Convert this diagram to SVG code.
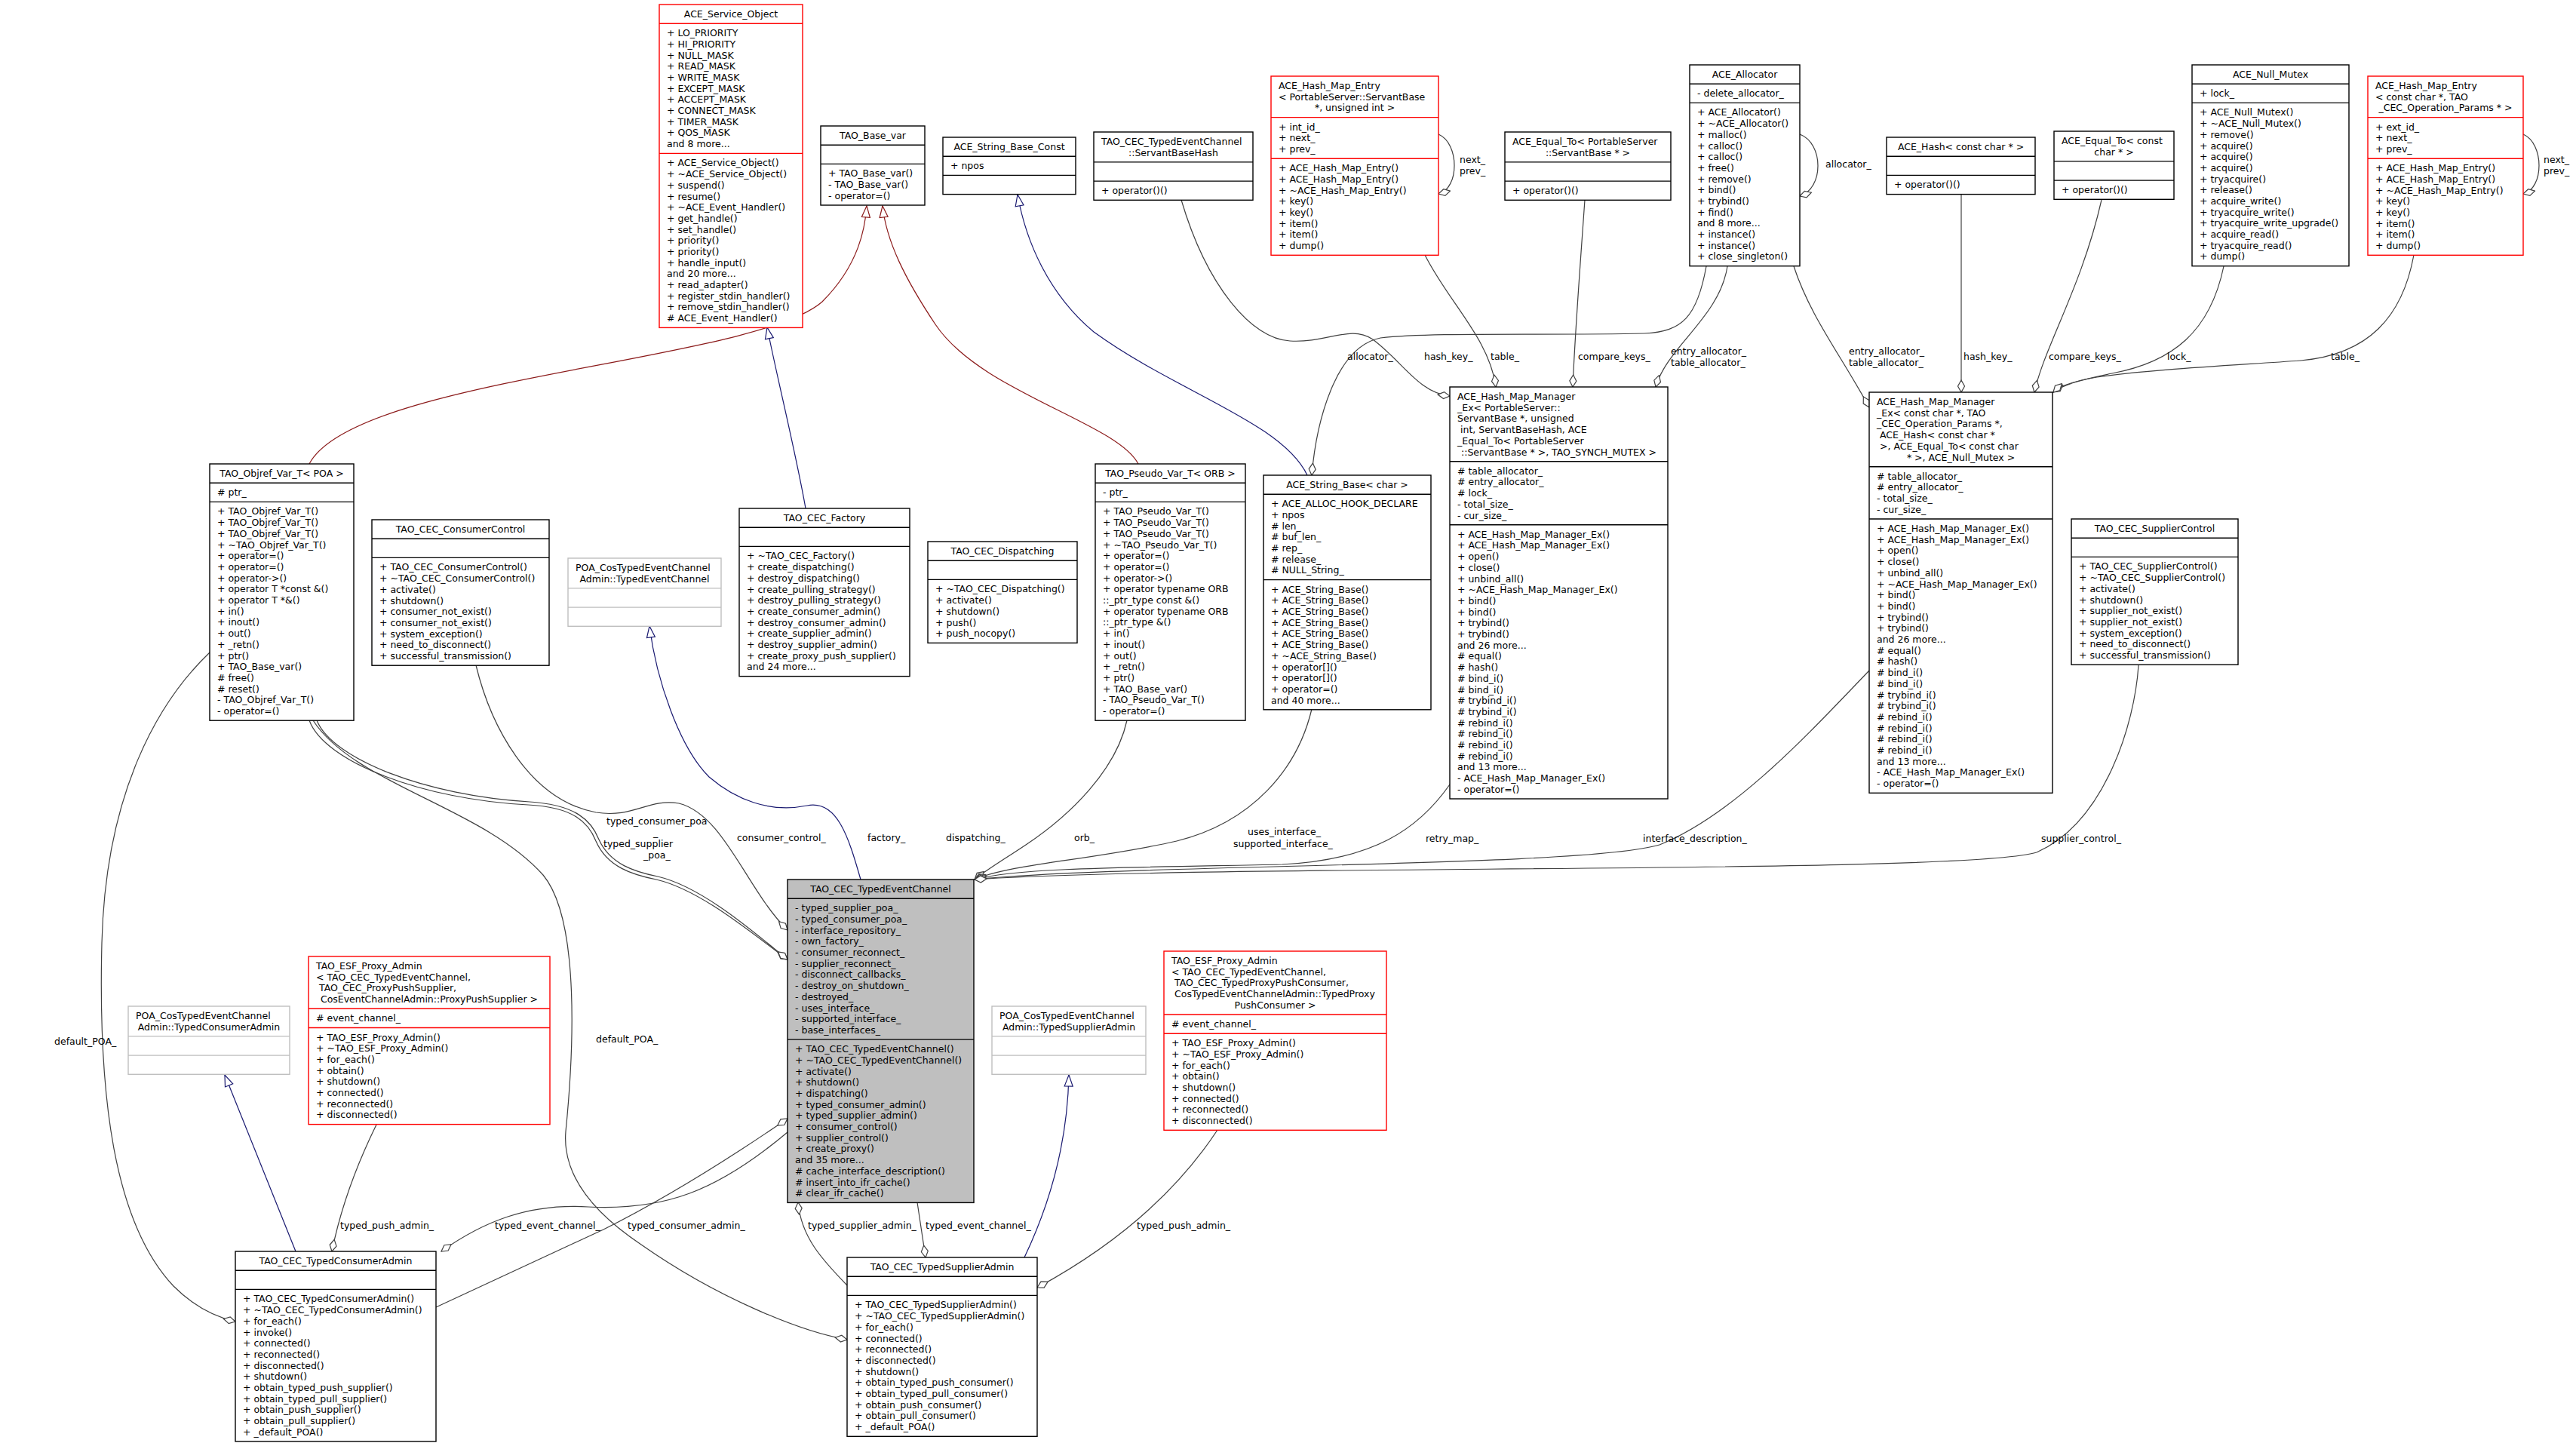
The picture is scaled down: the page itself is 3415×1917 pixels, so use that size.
<svg xmlns="http://www.w3.org/2000/svg" width="3415" height="1917" viewBox="0 0 3415 1917">
<style>
.t{font-family:"DejaVu Sans","Liberation Sans",sans-serif;font-size:12.5px;fill:#000}
.c{text-anchor:middle}
.b{fill:#fff;stroke:#000;stroke-width:1.4}
.r{fill:#fff;stroke:#ff0000;stroke-width:1.4}
.g{fill:#fff;stroke:#bfbfbf;stroke-width:1.4}
.s{fill:#bfbfbf;stroke:#000;stroke-width:1.4}
.dk{stroke:#000;stroke-width:1.4}
.dr{stroke:#ff0000;stroke-width:1.4}
.dg{stroke:#bfbfbf;stroke-width:1.4}
.e{fill:none;stroke:#404040;stroke-width:1.2;marker-end:url(#dia)}
.ib{fill:none;stroke:#191970;stroke-width:1.2;marker-end:url(#tb)}
.ir{fill:none;stroke:#8b1a1a;stroke-width:1.2;marker-end:url(#tr)}
</style>
<defs>
<marker id="dia" viewBox="-1 -6 19 12" refX="16" refY="0" markerWidth="19" markerHeight="12" orient="auto" markerUnits="userSpaceOnUse"><path d="M0,0 L8,-4.5 L16,0 L8,4.5 Z" fill="#fff" stroke="#404040" stroke-width="1.2"/></marker>
<marker id="tb" viewBox="-1 -7 17 14" refX="15" refY="0" markerWidth="17" markerHeight="14" orient="auto" markerUnits="userSpaceOnUse"><path d="M0,-5.5 L15,0 L0,5.5 Z" fill="#fff" stroke="#191970" stroke-width="1.2"/></marker>
<marker id="tr" viewBox="-1 -7 17 14" refX="15" refY="0" markerWidth="17" markerHeight="14" orient="auto" markerUnits="userSpaceOnUse"><path d="M0,-5.5 L15,0 L0,5.5 Z" fill="#fff" stroke="#8b1a1a" stroke-width="1.2"/></marker>
</defs>
<rect width="3415" height="1917" fill="#fff"/>

<g id="connectors">
<path class="ir" d="M410,615 C470,500 1000,480 1090,400 C1140,350 1147,300 1149,273"/>
<path class="ir" d="M1509,615 C1480,560 1300,520 1240,430 C1200,370 1175,320 1170,273"/>
<path class="ib" d="M1068,674 C1055,600 1030,500 1017,434"/>
<path class="ib" d="M1733,630 C1700,560 1560,520 1450,440 C1390,390 1360,320 1349,258"/>
<path class="ib" d="M1141,1166 C1125,1110 1110,1060 1070,1068 C1020,1078 975,1060 940,1030 C900,990 870,900 861,830"/>
<path class="ib" d="M392,1659 L298,1425"/>
<path class="ib" d="M1358,1667 C1390,1600 1415,1520 1417,1425"/>
<path class="e" d="M1566,265 C1600,380 1660,450 1710,452 C1760,455 1790,430 1820,450 C1860,480 1880,520 1922,525"/>
<path class="e" d="M1889,338 C1920,400 1975,450 1983,513"/>
<path class="e" d="M2101,265 C2095,350 2088,440 2085,513"/>
<path class="e" d="M2290,353 C2280,420 2210,460 2195,513"/>
<path class="e" d="M2262,353 C2250,420 2230,440 2180,442 C2050,445 1900,440 1830,448 C1770,460 1745,560 1739,630"/>
<path class="e" d="M2600,258 L2600,520"/>
<path class="e" d="M2786,265 C2760,380 2710,460 2697,520"/>
<path class="e" d="M2948,353 C2930,440 2880,480 2800,495 C2760,503 2735,510 2722,520"/>
<path class="e" d="M3200,338 C3185,420 3140,470 3050,478 C2950,485 2850,490 2780,500 C2750,505 2730,512 2722,520"/>
<path class="e" d="M2378,353 C2400,420 2440,470 2478,540"/>
<path class="e" d="M2386,178 C2418,190 2418,250 2386,260"/>
<path class="e" d="M1907,178 C1935,190 1935,250 1907,257"/>
<path class="e" d="M3345,178 C3373,190 3373,250 3345,257"/>
<path class="e" d="M631,882 C650,960 700,1060 790,1077 C840,1085 860,1058 900,1065 C960,1080 990,1180 1044,1233"/>
<path class="e" d="M410,955 C430,1010 560,1060 700,1067 C760,1070 780,1090 790,1115 C805,1150 840,1160 870,1166 C930,1180 1000,1240 1044,1272"/>
<path class="e" d="M420,955 C440,1006 565,1055 702,1063 C764,1067 784,1088 794,1113 C809,1146 842,1156 872,1162 C932,1176 1002,1238 1044,1272"/>
<path class="e" d="M415,955 C470,1040 640,1070 720,1160 C770,1220 760,1400 750,1500 C745,1560 790,1610 850,1650 C950,1720 1060,1765 1123,1776"/>
<path class="e" d="M278,865 C210,930 140,1050 135,1250 C130,1450 150,1620 230,1705 C260,1735 290,1747 312,1752"/>
<path class="e" d="M578,1733 L800,1630 C900,1580 990,1520 1044,1483"/>
<path class="e" d="M1044,1501 C950,1580 880,1605 780,1600 C700,1595 640,1620 585,1659"/>
<path class="e" d="M499,1491 C470,1550 450,1610 440,1659"/>
<path class="e" d="M1123,1704 C1090,1670 1062,1640 1058,1594"/>
<path class="e" d="M1216,1594 L1227,1667"/>
<path class="e" d="M1614,1498 C1560,1580 1480,1650 1375,1707"/>
<path class="e" d="M1494,955 C1480,1020 1420,1080 1360,1120 C1330,1140 1305,1155 1292,1166"/>
<path class="e" d="M1739,940 C1720,1020 1660,1090 1560,1115 C1450,1140 1340,1145 1292,1166"/>
<path class="e" d="M1922,1040 C1880,1100 1820,1140 1700,1146 C1500,1150 1350,1150 1292,1166"/>
<path class="e" d="M2478,889 C2400,970 2300,1080 2200,1120 C2100,1150 1500,1145 1292,1166"/>
<path class="e" d="M2835,882 C2830,960 2790,1090 2700,1130 C2600,1160 1600,1145 1292,1166"/>
<g class="t">
<text x="1786" y="477">allocator_</text>
<text x="1888" y="477">hash_key_</text>
<text x="1976" y="477">table_</text>
<text x="2092" y="477">compare_keys_</text>
<text x="2215" y="470">entry_allocator_</text>
<text x="2215" y="485">table_allocator_</text>
<text x="2451" y="470">entry_allocator_</text>
<text x="2451" y="485">table_allocator_</text>
<text x="2603" y="477">hash_key_</text>
<text x="2716" y="477">compare_keys_</text>
<text x="2873" y="477">lock_</text>
<text x="3090" y="477">table_</text>
<text x="2420" y="222">allocator_</text>
<text x="1935" y="216">next_</text>
<text x="1935" y="231">prev_</text>
<text x="3372" y="216">next_</text>
<text x="3372" y="231">prev_</text>
<text x="804" y="1093">typed_consumer_poa</text>
<text x="866" y="1108">_</text>
<text x="800" y="1123">typed_supplier</text>
<text x="853" y="1138">_poa_</text>
<text x="977" y="1115">consumer_control_</text>
<text x="1150" y="1115">factory_</text>
<text x="1254" y="1115">dispatching_</text>
<text x="1424" y="1115">orb_</text>
<text x="1654" y="1107">uses_interface_</text>
<text x="1635" y="1123">supported_interface_</text>
<text x="1890" y="1116">retry_map_</text>
<text x="2178" y="1116">interface_description_</text>
<text x="2706" y="1116">supplier_control_</text>
<text x="72" y="1385">default_POA_</text>
<text x="790" y="1382">default_POA_</text>
<text x="451" y="1629">typed_push_admin_</text>
<text x="656" y="1629">typed_event_channel_</text>
<text x="832" y="1629">typed_consumer_admin_</text>
<text x="1071" y="1629">typed_supplier_admin_</text>
<text x="1227" y="1629">typed_event_channel_</text>
<text x="1507" y="1629">typed_push_admin_</text>
</g>
</g>

<g id="ACE_Service_Object">
<rect class="r" x="874" y="6" width="190" height="428.4"/>
<path class="dr" d="M874,31.2H1064M874,203.4H1064"/>
<text class="t c" x="969" y="23">ACE_Service_Object</text>
<text class="t" y="48.2"><tspan x="884">+ LO_PRIORITY</tspan><tspan x="884" dy="14.7">+ HI_PRIORITY</tspan><tspan x="884" dy="14.7">+ NULL_MASK</tspan><tspan x="884" dy="14.7">+ READ_MASK</tspan><tspan x="884" dy="14.7">+ WRITE_MASK</tspan><tspan x="884" dy="14.7">+ EXCEPT_MASK</tspan><tspan x="884" dy="14.7">+ ACCEPT_MASK</tspan><tspan x="884" dy="14.7">+ CONNECT_MASK</tspan><tspan x="884" dy="14.7">+ TIMER_MASK</tspan><tspan x="884" dy="14.7">+ QOS_MASK</tspan><tspan x="884" dy="14.7">and 8 more...</tspan></text>
<text class="t" y="220.4"><tspan x="884">+ ACE_Service_Object()</tspan><tspan x="884" dy="14.7">+ ~ACE_Service_Object()</tspan><tspan x="884" dy="14.7">+ suspend()</tspan><tspan x="884" dy="14.7">+ resume()</tspan><tspan x="884" dy="14.7">+ ~ACE_Event_Handler()</tspan><tspan x="884" dy="14.7">+ get_handle()</tspan><tspan x="884" dy="14.7">+ set_handle()</tspan><tspan x="884" dy="14.7">+ priority()</tspan><tspan x="884" dy="14.7">+ priority()</tspan><tspan x="884" dy="14.7">+ handle_input()</tspan><tspan x="884" dy="14.7">and 20 more...</tspan><tspan x="884" dy="14.7">+ read_adapter()</tspan><tspan x="884" dy="14.7">+ register_stdin_handler()</tspan><tspan x="884" dy="14.7">+ remove_stdin_handler()</tspan><tspan x="884" dy="14.7"># ACE_Event_Handler()</tspan></text>
</g>

<g id="TAO_Base_var">
<rect class="b" x="1088" y="167" width="138" height="105"/>
<path class="dk" d="M1088,192.2H1226M1088,217.4H1226"/>
<text class="t c" x="1157" y="184">TAO_Base_var</text>
<text class="t" y="234.4"><tspan x="1098">+ TAO_Base_var()</tspan><tspan x="1098" dy="14.7">- TAO_Base_var()</tspan><tspan x="1098" dy="14.7">- operator=()</tspan></text>
</g>

<g id="ACE_String_Base_Const">
<rect class="b" x="1250" y="182" width="176" height="75.6"/>
<path class="dk" d="M1250,207.2H1426M1250,232.4H1426"/>
<text class="t c" x="1338" y="199">ACE_String_Base_Const</text>
<text class="t" x="1260" y="224.2">+ npos</text>
</g>

<g id="ServantBaseHash">
<rect class="b" x="1450" y="175" width="211" height="90.3"/>
<path class="dk" d="M1450,214.9H1661M1450,240.1H1661"/>
<text class="t" x="1460" y="192">TAO_CEC_TypedEventChannel</text>
<text class="t c" x="1555.5" y="206.7">::ServantBaseHash</text>
<text class="t" x="1460" y="257.1">+ operator()()</text>
</g>

<g id="ACE_Hash_Map_Entry_PS">
<rect class="r" x="1685" y="101" width="222" height="237.3"/>
<path class="dr" d="M1685,155.6H1907M1685,210.2H1907"/>
<text class="t" y="118"><tspan x="1695">ACE_Hash_Map_Entry</tspan><tspan x="1695" dy="14.7">&lt; PortableServer::ServantBase</tspan></text>
<text class="t c" x="1796" y="147.4">*, unsigned int &gt;</text>
<text class="t" y="172.6"><tspan x="1695">+ int_id_</tspan><tspan x="1695" dy="14.7">+ next_</tspan><tspan x="1695" dy="14.7">+ prev_</tspan></text>
<text class="t" y="227.2"><tspan x="1695">+ ACE_Hash_Map_Entry()</tspan><tspan x="1695" dy="14.7">+ ACE_Hash_Map_Entry()</tspan><tspan x="1695" dy="14.7">+ ~ACE_Hash_Map_Entry()</tspan><tspan x="1695" dy="14.7">+ key()</tspan><tspan x="1695" dy="14.7">+ key()</tspan><tspan x="1695" dy="14.7">+ item()</tspan><tspan x="1695" dy="14.7">+ item()</tspan><tspan x="1695" dy="14.7">+ dump()</tspan></text>
</g>

<g id="ACE_Equal_To_PS">
<rect class="b" x="1995" y="175" width="220" height="90.3"/>
<path class="dk" d="M1995,214.9H2215M1995,240.1H2215"/>
<text class="t" x="2005" y="192">ACE_Equal_To&lt; PortableServer</text>
<text class="t c" x="2105" y="206.7">::ServantBase * &gt;</text>
<text class="t" x="2005" y="257.1">+ operator()()</text>
</g>

<g id="ACE_Allocator">
<rect class="b" x="2240" y="86" width="146" height="266.7"/>
<path class="dk" d="M2240,111.2H2386M2240,136.4H2386"/>
<text class="t c" x="2313" y="103">ACE_Allocator</text>
<text class="t" x="2250" y="128.2">- delete_allocator_</text>
<text class="t" y="153.4"><tspan x="2250">+ ACE_Allocator()</tspan><tspan x="2250" dy="14.7">+ ~ACE_Allocator()</tspan><tspan x="2250" dy="14.7">+ malloc()</tspan><tspan x="2250" dy="14.7">+ calloc()</tspan><tspan x="2250" dy="14.7">+ calloc()</tspan><tspan x="2250" dy="14.7">+ free()</tspan><tspan x="2250" dy="14.7">+ remove()</tspan><tspan x="2250" dy="14.7">+ bind()</tspan><tspan x="2250" dy="14.7">+ trybind()</tspan><tspan x="2250" dy="14.7">+ find()</tspan><tspan x="2250" dy="14.7">and 8 more...</tspan><tspan x="2250" dy="14.7">+ instance()</tspan><tspan x="2250" dy="14.7">+ instance()</tspan><tspan x="2250" dy="14.7">+ close_singleton()</tspan></text>
</g>

<g id="ACE_Hash_char">
<rect class="b" x="2501" y="182" width="197" height="75.6"/>
<path class="dk" d="M2501,207.2H2698M2501,232.4H2698"/>
<text class="t c" x="2599.5" y="199">ACE_Hash&lt; const char * &gt;</text>
<text class="t" x="2511" y="249.4">+ operator()()</text>
</g>

<g id="ACE_Equal_To_char">
<rect class="b" x="2723" y="174" width="159" height="90.3"/>
<path class="dk" d="M2723,213.9H2882M2723,239.1H2882"/>
<text class="t" x="2733" y="191">ACE_Equal_To&lt; const</text>
<text class="t c" x="2802.5" y="205.7">char * &gt;</text>
<text class="t" x="2733" y="256.1">+ operator()()</text>
</g>

<g id="ACE_Null_Mutex">
<rect class="b" x="2906" y="86" width="208" height="266.7"/>
<path class="dk" d="M2906,111.2H3114M2906,136.4H3114"/>
<text class="t c" x="3010" y="103">ACE_Null_Mutex</text>
<text class="t" x="2916" y="128.2">+ lock_</text>
<text class="t" y="153.4"><tspan x="2916">+ ACE_Null_Mutex()</tspan><tspan x="2916" dy="14.7">+ ~ACE_Null_Mutex()</tspan><tspan x="2916" dy="14.7">+ remove()</tspan><tspan x="2916" dy="14.7">+ acquire()</tspan><tspan x="2916" dy="14.7">+ acquire()</tspan><tspan x="2916" dy="14.7">+ acquire()</tspan><tspan x="2916" dy="14.7">+ tryacquire()</tspan><tspan x="2916" dy="14.7">+ release()</tspan><tspan x="2916" dy="14.7">+ acquire_write()</tspan><tspan x="2916" dy="14.7">+ tryacquire_write()</tspan><tspan x="2916" dy="14.7">+ tryacquire_write_upgrade()</tspan><tspan x="2916" dy="14.7">+ acquire_read()</tspan><tspan x="2916" dy="14.7">+ tryacquire_read()</tspan><tspan x="2916" dy="14.7">+ dump()</tspan></text>
</g>

<g id="ACE_Hash_Map_Entry_char">
<rect class="r" x="3139" y="101" width="206" height="237.3"/>
<path class="dr" d="M3139,155.6H3345M3139,210.2H3345"/>
<text class="t" y="118"><tspan x="3149">ACE_Hash_Map_Entry</tspan><tspan x="3149" dy="14.7">&lt; const char *, TAO</tspan></text>
<text class="t c" x="3242" y="147.4">_CEC_Operation_Params * &gt;</text>
<text class="t" y="172.6"><tspan x="3149">+ ext_id_</tspan><tspan x="3149" dy="14.7">+ next_</tspan><tspan x="3149" dy="14.7">+ prev_</tspan></text>
<text class="t" y="227.2"><tspan x="3149">+ ACE_Hash_Map_Entry()</tspan><tspan x="3149" dy="14.7">+ ACE_Hash_Map_Entry()</tspan><tspan x="3149" dy="14.7">+ ~ACE_Hash_Map_Entry()</tspan><tspan x="3149" dy="14.7">+ key()</tspan><tspan x="3149" dy="14.7">+ key()</tspan><tspan x="3149" dy="14.7">+ item()</tspan><tspan x="3149" dy="14.7">+ item()</tspan><tspan x="3149" dy="14.7">+ dump()</tspan></text>
</g>

<g id="TAO_Objref_Var_T">
<rect class="b" x="278" y="615" width="191" height="340.2"/>
<path class="dk" d="M278,640.2H469M278,665.4H469"/>
<text class="t c" x="373.5" y="632">TAO_Objref_Var_T&lt; POA &gt;</text>
<text class="t" x="288" y="657.2"># ptr_</text>
<text class="t" y="682.4"><tspan x="288">+ TAO_Objref_Var_T()</tspan><tspan x="288" dy="14.7">+ TAO_Objref_Var_T()</tspan><tspan x="288" dy="14.7">+ TAO_Objref_Var_T()</tspan><tspan x="288" dy="14.7">+ ~TAO_Objref_Var_T()</tspan><tspan x="288" dy="14.7">+ operator=()</tspan><tspan x="288" dy="14.7">+ operator=()</tspan><tspan x="288" dy="14.7">+ operator-&gt;()</tspan><tspan x="288" dy="14.7">+ operator T *const &amp;()</tspan><tspan x="288" dy="14.7">+ operator T *&amp;()</tspan><tspan x="288" dy="14.7">+ in()</tspan><tspan x="288" dy="14.7">+ inout()</tspan><tspan x="288" dy="14.7">+ out()</tspan><tspan x="288" dy="14.7">+ _retn()</tspan><tspan x="288" dy="14.7">+ ptr()</tspan><tspan x="288" dy="14.7">+ TAO_Base_var()</tspan><tspan x="288" dy="14.7"># free()</tspan><tspan x="288" dy="14.7"># reset()</tspan><tspan x="288" dy="14.7">- TAO_Objref_Var_T()</tspan><tspan x="288" dy="14.7">- operator=()</tspan></text>
</g>

<g id="TAO_CEC_ConsumerControl">
<rect class="b" x="493" y="689" width="235" height="193.2"/>
<path class="dk" d="M493,714.2H728M493,739.4H728"/>
<text class="t c" x="610.5" y="706">TAO_CEC_ConsumerControl</text>
<text class="t" y="756.4"><tspan x="503">+ TAO_CEC_ConsumerControl()</tspan><tspan x="503" dy="14.7">+ ~TAO_CEC_ConsumerControl()</tspan><tspan x="503" dy="14.7">+ activate()</tspan><tspan x="503" dy="14.7">+ shutdown()</tspan><tspan x="503" dy="14.7">+ consumer_not_exist()</tspan><tspan x="503" dy="14.7">+ consumer_not_exist()</tspan><tspan x="503" dy="14.7">+ system_exception()</tspan><tspan x="503" dy="14.7">+ need_to_disconnect()</tspan><tspan x="503" dy="14.7">+ successful_transmission()</tspan></text>
</g>

<g id="POA_TypedEventChannel">
<rect class="g" x="753" y="740" width="203" height="90.3"/>
<path class="dg" d="M753,779.9H956M753,805.1H956"/>
<text class="t" x="763" y="757">POA_CosTypedEventChannel</text>
<text class="t c" x="854.5" y="771.7">Admin::TypedEventChannel</text>
</g>

<g id="TAO_CEC_Factory">
<rect class="b" x="980" y="674" width="226" height="222.6"/>
<path class="dk" d="M980,699.2H1206M980,724.4H1206"/>
<text class="t c" x="1093" y="691">TAO_CEC_Factory</text>
<text class="t" y="741.4"><tspan x="990">+ ~TAO_CEC_Factory()</tspan><tspan x="990" dy="14.7">+ create_dispatching()</tspan><tspan x="990" dy="14.7">+ destroy_dispatching()</tspan><tspan x="990" dy="14.7">+ create_pulling_strategy()</tspan><tspan x="990" dy="14.7">+ destroy_pulling_strategy()</tspan><tspan x="990" dy="14.7">+ create_consumer_admin()</tspan><tspan x="990" dy="14.7">+ destroy_consumer_admin()</tspan><tspan x="990" dy="14.7">+ create_supplier_admin()</tspan><tspan x="990" dy="14.7">+ destroy_supplier_admin()</tspan><tspan x="990" dy="14.7">+ create_proxy_push_supplier()</tspan><tspan x="990" dy="14.7">and 24 more...</tspan></text>
</g>

<g id="TAO_CEC_Dispatching">
<rect class="b" x="1230" y="718" width="198" height="134.4"/>
<path class="dk" d="M1230,743.2H1428M1230,768.4H1428"/>
<text class="t c" x="1329" y="735">TAO_CEC_Dispatching</text>
<text class="t" y="785.4"><tspan x="1240">+ ~TAO_CEC_Dispatching()</tspan><tspan x="1240" dy="14.7">+ activate()</tspan><tspan x="1240" dy="14.7">+ shutdown()</tspan><tspan x="1240" dy="14.7">+ push()</tspan><tspan x="1240" dy="14.7">+ push_nocopy()</tspan></text>
</g>

<g id="TAO_Pseudo_Var_T">
<rect class="b" x="1452" y="615" width="199" height="340.2"/>
<path class="dk" d="M1452,640.2H1651M1452,665.4H1651"/>
<text class="t c" x="1551.5" y="632">TAO_Pseudo_Var_T&lt; ORB &gt;</text>
<text class="t" x="1462" y="657.2">- ptr_</text>
<text class="t" y="682.4"><tspan x="1462">+ TAO_Pseudo_Var_T()</tspan><tspan x="1462" dy="14.7">+ TAO_Pseudo_Var_T()</tspan><tspan x="1462" dy="14.7">+ TAO_Pseudo_Var_T()</tspan><tspan x="1462" dy="14.7">+ ~TAO_Pseudo_Var_T()</tspan><tspan x="1462" dy="14.7">+ operator=()</tspan><tspan x="1462" dy="14.7">+ operator=()</tspan><tspan x="1462" dy="14.7">+ operator-&gt;()</tspan><tspan x="1462" dy="14.7">+ operator typename ORB</tspan><tspan x="1462" dy="14.7">::_ptr_type const &amp;()</tspan><tspan x="1462" dy="14.7">+ operator typename ORB</tspan><tspan x="1462" dy="14.7">::_ptr_type &amp;()</tspan><tspan x="1462" dy="14.7">+ in()</tspan><tspan x="1462" dy="14.7">+ inout()</tspan><tspan x="1462" dy="14.7">+ out()</tspan><tspan x="1462" dy="14.7">+ _retn()</tspan><tspan x="1462" dy="14.7">+ ptr()</tspan><tspan x="1462" dy="14.7">+ TAO_Base_var()</tspan><tspan x="1462" dy="14.7">- TAO_Pseudo_Var_T()</tspan><tspan x="1462" dy="14.7">- operator=()</tspan></text>
</g>

<g id="ACE_String_Base_char">
<rect class="b" x="1675" y="630" width="222" height="310.8"/>
<path class="dk" d="M1675,655.2H1897M1675,768.6H1897"/>
<text class="t c" x="1786" y="647">ACE_String_Base&lt; char &gt;</text>
<text class="t" y="672.2"><tspan x="1685">+ ACE_ALLOC_HOOK_DECLARE</tspan><tspan x="1685" dy="14.7">+ npos</tspan><tspan x="1685" dy="14.7"># len_</tspan><tspan x="1685" dy="14.7"># buf_len_</tspan><tspan x="1685" dy="14.7"># rep_</tspan><tspan x="1685" dy="14.7"># release_</tspan><tspan x="1685" dy="14.7"># NULL_String_</tspan></text>
<text class="t" y="785.6"><tspan x="1685">+ ACE_String_Base()</tspan><tspan x="1685" dy="14.7">+ ACE_String_Base()</tspan><tspan x="1685" dy="14.7">+ ACE_String_Base()</tspan><tspan x="1685" dy="14.7">+ ACE_String_Base()</tspan><tspan x="1685" dy="14.7">+ ACE_String_Base()</tspan><tspan x="1685" dy="14.7">+ ACE_String_Base()</tspan><tspan x="1685" dy="14.7">+ ~ACE_String_Base()</tspan><tspan x="1685" dy="14.7">+ operator[]()</tspan><tspan x="1685" dy="14.7">+ operator[]()</tspan><tspan x="1685" dy="14.7">+ operator=()</tspan><tspan x="1685" dy="14.7">and 40 more...</tspan></text>
</g>

<g id="ACE_Hash_Map_Manager_Ex_PS">
<rect class="b" x="1922" y="513" width="289" height="546"/>
<path class="dk" d="M1922,611.7H2211M1922,695.7H2211"/>
<text class="t" y="530"><tspan x="1932">ACE_Hash_Map_Manager</tspan><tspan x="1932" dy="14.7">_Ex&lt; PortableServer::</tspan><tspan x="1932" dy="14.7">ServantBase *, unsigned</tspan><tspan x="1936" dy="14.7">int, ServantBaseHash, ACE</tspan><tspan x="1932" dy="14.7">_Equal_To&lt; PortableServer</tspan></text>
<text class="t c" x="2066.5" y="603.5">::ServantBase * &gt;, TAO_SYNCH_MUTEX &gt;</text>
<text class="t" y="628.7"><tspan x="1932"># table_allocator_</tspan><tspan x="1932" dy="14.7"># entry_allocator_</tspan><tspan x="1932" dy="14.7"># lock_</tspan><tspan x="1932" dy="14.7">- total_size_</tspan><tspan x="1932" dy="14.7">- cur_size_</tspan></text>
<text class="t" y="712.7"><tspan x="1932">+ ACE_Hash_Map_Manager_Ex()</tspan><tspan x="1932" dy="14.7">+ ACE_Hash_Map_Manager_Ex()</tspan><tspan x="1932" dy="14.7">+ open()</tspan><tspan x="1932" dy="14.7">+ close()</tspan><tspan x="1932" dy="14.7">+ unbind_all()</tspan><tspan x="1932" dy="14.7">+ ~ACE_Hash_Map_Manager_Ex()</tspan><tspan x="1932" dy="14.7">+ bind()</tspan><tspan x="1932" dy="14.7">+ bind()</tspan><tspan x="1932" dy="14.7">+ trybind()</tspan><tspan x="1932" dy="14.7">+ trybind()</tspan><tspan x="1932" dy="14.7">and 26 more...</tspan><tspan x="1932" dy="14.7"># equal()</tspan><tspan x="1932" dy="14.7"># hash()</tspan><tspan x="1932" dy="14.7"># bind_i()</tspan><tspan x="1932" dy="14.7"># bind_i()</tspan><tspan x="1932" dy="14.7"># trybind_i()</tspan><tspan x="1932" dy="14.7"># trybind_i()</tspan><tspan x="1932" dy="14.7"># rebind_i()</tspan><tspan x="1932" dy="14.7"># rebind_i()</tspan><tspan x="1932" dy="14.7"># rebind_i()</tspan><tspan x="1932" dy="14.7"># rebind_i()</tspan><tspan x="1932" dy="14.7">and 13 more...</tspan><tspan x="1932" dy="14.7">- ACE_Hash_Map_Manager_Ex()</tspan><tspan x="1932" dy="14.7">- operator=()</tspan></text>
</g>

<g id="ACE_Hash_Map_Manager_Ex_char">
<rect class="b" x="2478" y="520" width="243" height="531.3"/>
<path class="dk" d="M2478,618.7H2721M2478,688H2721"/>
<text class="t" y="537"><tspan x="2488">ACE_Hash_Map_Manager</tspan><tspan x="2488" dy="14.7">_Ex&lt; const char *, TAO</tspan><tspan x="2488" dy="14.7">_CEC_Operation_Params *,</tspan><tspan x="2492" dy="14.7">ACE_Hash&lt; const char *</tspan><tspan x="2492" dy="14.7">&gt;, ACE_Equal_To&lt; const char</tspan></text>
<text class="t c" x="2599.5" y="610.5">* &gt;, ACE_Null_Mutex &gt;</text>
<text class="t" y="635.7"><tspan x="2488"># table_allocator_</tspan><tspan x="2488" dy="14.7"># entry_allocator_</tspan><tspan x="2488" dy="14.7">- total_size_</tspan><tspan x="2488" dy="14.7">- cur_size_</tspan></text>
<text class="t" y="705"><tspan x="2488">+ ACE_Hash_Map_Manager_Ex()</tspan><tspan x="2488" dy="14.7">+ ACE_Hash_Map_Manager_Ex()</tspan><tspan x="2488" dy="14.7">+ open()</tspan><tspan x="2488" dy="14.7">+ close()</tspan><tspan x="2488" dy="14.7">+ unbind_all()</tspan><tspan x="2488" dy="14.7">+ ~ACE_Hash_Map_Manager_Ex()</tspan><tspan x="2488" dy="14.7">+ bind()</tspan><tspan x="2488" dy="14.7">+ bind()</tspan><tspan x="2488" dy="14.7">+ trybind()</tspan><tspan x="2488" dy="14.7">+ trybind()</tspan><tspan x="2488" dy="14.7">and 26 more...</tspan><tspan x="2488" dy="14.7"># equal()</tspan><tspan x="2488" dy="14.7"># hash()</tspan><tspan x="2488" dy="14.7"># bind_i()</tspan><tspan x="2488" dy="14.7"># bind_i()</tspan><tspan x="2488" dy="14.7"># trybind_i()</tspan><tspan x="2488" dy="14.7"># trybind_i()</tspan><tspan x="2488" dy="14.7"># rebind_i()</tspan><tspan x="2488" dy="14.7"># rebind_i()</tspan><tspan x="2488" dy="14.7"># rebind_i()</tspan><tspan x="2488" dy="14.7"># rebind_i()</tspan><tspan x="2488" dy="14.7">and 13 more...</tspan><tspan x="2488" dy="14.7">- ACE_Hash_Map_Manager_Ex()</tspan><tspan x="2488" dy="14.7">- operator=()</tspan></text>
</g>

<g id="TAO_CEC_SupplierControl">
<rect class="b" x="2746" y="688" width="221" height="193.2"/>
<path class="dk" d="M2746,713.2H2967M2746,738.4H2967"/>
<text class="t c" x="2856.5" y="705">TAO_CEC_SupplierControl</text>
<text class="t" y="755.4"><tspan x="2756">+ TAO_CEC_SupplierControl()</tspan><tspan x="2756" dy="14.7">+ ~TAO_CEC_SupplierControl()</tspan><tspan x="2756" dy="14.7">+ activate()</tspan><tspan x="2756" dy="14.7">+ shutdown()</tspan><tspan x="2756" dy="14.7">+ supplier_not_exist()</tspan><tspan x="2756" dy="14.7">+ supplier_not_exist()</tspan><tspan x="2756" dy="14.7">+ system_exception()</tspan><tspan x="2756" dy="14.7">+ need_to_disconnect()</tspan><tspan x="2756" dy="14.7">+ successful_transmission()</tspan></text>
</g>

<g id="TAO_CEC_TypedEventChannel">
<rect class="s" x="1044" y="1166" width="247" height="428.4"/>
<path class="dk" d="M1044,1191.2H1291M1044,1378.1H1291"/>
<text class="t c" x="1167.5" y="1183">TAO_CEC_TypedEventChannel</text>
<text class="t" y="1208.2"><tspan x="1054">- typed_supplier_poa_</tspan><tspan x="1054" dy="14.7">- typed_consumer_poa_</tspan><tspan x="1054" dy="14.7">- interface_repository_</tspan><tspan x="1054" dy="14.7">- own_factory_</tspan><tspan x="1054" dy="14.7">- consumer_reconnect_</tspan><tspan x="1054" dy="14.7">- supplier_reconnect_</tspan><tspan x="1054" dy="14.7">- disconnect_callbacks_</tspan><tspan x="1054" dy="14.7">- destroy_on_shutdown_</tspan><tspan x="1054" dy="14.7">- destroyed_</tspan><tspan x="1054" dy="14.7">- uses_interface_</tspan><tspan x="1054" dy="14.7">- supported_interface_</tspan><tspan x="1054" dy="14.7">- base_interfaces_</tspan></text>
<text class="t" y="1395.1"><tspan x="1054">+ TAO_CEC_TypedEventChannel()</tspan><tspan x="1054" dy="14.7">+ ~TAO_CEC_TypedEventChannel()</tspan><tspan x="1054" dy="14.7">+ activate()</tspan><tspan x="1054" dy="14.7">+ shutdown()</tspan><tspan x="1054" dy="14.7">+ dispatching()</tspan><tspan x="1054" dy="14.7">+ typed_consumer_admin()</tspan><tspan x="1054" dy="14.7">+ typed_supplier_admin()</tspan><tspan x="1054" dy="14.7">+ consumer_control()</tspan><tspan x="1054" dy="14.7">+ supplier_control()</tspan><tspan x="1054" dy="14.7">+ create_proxy()</tspan><tspan x="1054" dy="14.7">and 35 more...</tspan><tspan x="1054" dy="14.7"># cache_interface_description()</tspan><tspan x="1054" dy="14.7"># insert_into_ifr_cache()</tspan><tspan x="1054" dy="14.7"># clear_ifr_cache()</tspan></text>
</g>

<g id="POA_TypedConsumerAdmin">
<rect class="g" x="170" y="1334" width="214" height="90.3"/>
<path class="dg" d="M170,1373.9H384M170,1399.1H384"/>
<text class="t" x="180" y="1351">POA_CosTypedEventChannel</text>
<text class="t c" x="277" y="1365.7">Admin::TypedConsumerAdmin</text>
</g>

<g id="TAO_ESF_Proxy_Admin_Supplier">
<rect class="r" x="409" y="1268" width="320" height="222.6"/>
<path class="dr" d="M409,1337.3H729M409,1362.5H729"/>
<text class="t" y="1285"><tspan x="419">TAO_ESF_Proxy_Admin</tspan><tspan x="419" dy="14.7">&lt; TAO_CEC_TypedEventChannel,</tspan><tspan x="423" dy="14.7">TAO_CEC_ProxyPushSupplier,</tspan></text>
<text class="t c" x="569" y="1329.1">CosEventChannelAdmin::ProxyPushSupplier &gt;</text>
<text class="t" x="419" y="1354.3"># event_channel_</text>
<text class="t" y="1379.5"><tspan x="419">+ TAO_ESF_Proxy_Admin()</tspan><tspan x="419" dy="14.7">+ ~TAO_ESF_Proxy_Admin()</tspan><tspan x="419" dy="14.7">+ for_each()</tspan><tspan x="419" dy="14.7">+ obtain()</tspan><tspan x="419" dy="14.7">+ shutdown()</tspan><tspan x="419" dy="14.7">+ connected()</tspan><tspan x="419" dy="14.7">+ reconnected()</tspan><tspan x="419" dy="14.7">+ disconnected()</tspan></text>
</g>

<g id="TAO_CEC_TypedConsumerAdmin">
<rect class="b" x="312" y="1659" width="266" height="252"/>
<path class="dk" d="M312,1684.2H578M312,1709.4H578"/>
<text class="t c" x="445" y="1676">TAO_CEC_TypedConsumerAdmin</text>
<text class="t" y="1726.4"><tspan x="322">+ TAO_CEC_TypedConsumerAdmin()</tspan><tspan x="322" dy="14.7">+ ~TAO_CEC_TypedConsumerAdmin()</tspan><tspan x="322" dy="14.7">+ for_each()</tspan><tspan x="322" dy="14.7">+ invoke()</tspan><tspan x="322" dy="14.7">+ connected()</tspan><tspan x="322" dy="14.7">+ reconnected()</tspan><tspan x="322" dy="14.7">+ disconnected()</tspan><tspan x="322" dy="14.7">+ shutdown()</tspan><tspan x="322" dy="14.7">+ obtain_typed_push_supplier()</tspan><tspan x="322" dy="14.7">+ obtain_typed_pull_supplier()</tspan><tspan x="322" dy="14.7">+ obtain_push_supplier()</tspan><tspan x="322" dy="14.7">+ obtain_pull_supplier()</tspan><tspan x="322" dy="14.7">+ _default_POA()</tspan></text>
</g>

<g id="POA_TypedSupplierAdmin">
<rect class="g" x="1315" y="1334" width="204" height="90.3"/>
<path class="dg" d="M1315,1373.9H1519M1315,1399.1H1519"/>
<text class="t" x="1325" y="1351">POA_CosTypedEventChannel</text>
<text class="t c" x="1417" y="1365.7">Admin::TypedSupplierAdmin</text>
</g>

<g id="TAO_ESF_Proxy_Admin_Consumer">
<rect class="r" x="1543" y="1261" width="295" height="237.3"/>
<path class="dr" d="M1543,1345H1838M1543,1370.2H1838"/>
<text class="t" y="1278"><tspan x="1553">TAO_ESF_Proxy_Admin</tspan><tspan x="1553" dy="14.7">&lt; TAO_CEC_TypedEventChannel,</tspan><tspan x="1557" dy="14.7">TAO_CEC_TypedProxyPushConsumer,</tspan><tspan x="1557" dy="14.7">CosTypedEventChannelAdmin::TypedProxy</tspan></text>
<text class="t c" x="1690.5" y="1336.8">PushConsumer &gt;</text>
<text class="t" x="1553" y="1362"># event_channel_</text>
<text class="t" y="1387.2"><tspan x="1553">+ TAO_ESF_Proxy_Admin()</tspan><tspan x="1553" dy="14.7">+ ~TAO_ESF_Proxy_Admin()</tspan><tspan x="1553" dy="14.7">+ for_each()</tspan><tspan x="1553" dy="14.7">+ obtain()</tspan><tspan x="1553" dy="14.7">+ shutdown()</tspan><tspan x="1553" dy="14.7">+ connected()</tspan><tspan x="1553" dy="14.7">+ reconnected()</tspan><tspan x="1553" dy="14.7">+ disconnected()</tspan></text>
</g>

<g id="TAO_CEC_TypedSupplierAdmin">
<rect class="b" x="1123" y="1667" width="252" height="237.3"/>
<path class="dk" d="M1123,1692.2H1375M1123,1717.4H1375"/>
<text class="t c" x="1249" y="1684">TAO_CEC_TypedSupplierAdmin</text>
<text class="t" y="1734.4"><tspan x="1133">+ TAO_CEC_TypedSupplierAdmin()</tspan><tspan x="1133" dy="14.7">+ ~TAO_CEC_TypedSupplierAdmin()</tspan><tspan x="1133" dy="14.7">+ for_each()</tspan><tspan x="1133" dy="14.7">+ connected()</tspan><tspan x="1133" dy="14.7">+ reconnected()</tspan><tspan x="1133" dy="14.7">+ disconnected()</tspan><tspan x="1133" dy="14.7">+ shutdown()</tspan><tspan x="1133" dy="14.7">+ obtain_typed_push_consumer()</tspan><tspan x="1133" dy="14.7">+ obtain_typed_pull_consumer()</tspan><tspan x="1133" dy="14.7">+ obtain_push_consumer()</tspan><tspan x="1133" dy="14.7">+ obtain_pull_consumer()</tspan><tspan x="1133" dy="14.7">+ _default_POA()</tspan></text>
</g>
</svg>
